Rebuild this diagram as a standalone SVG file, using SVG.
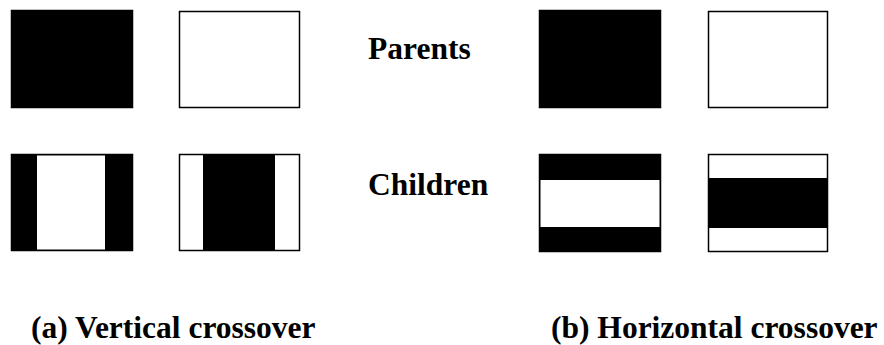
<svg xmlns="http://www.w3.org/2000/svg" width="884" height="345" viewBox="0 0 884 345">
<style>
.box{stroke:#000;stroke-width:1.5;}
.b{fill:#000;}
.w{fill:#fff;}
.t{font-family:"Liberation Serif","Times New Roman",serif;font-weight:bold;font-size:31.5px;fill:#000;}
</style>
<rect width="884" height="345" fill="#fff"/>
<g id="parent-a1"><rect class="box b" x="11.5" y="10.5" width="121" height="97"/></g>
<g id="parent-a2"><rect class="box w" x="179.5" y="11.5" width="120" height="96"/></g>
<g id="child-a1">
<rect class="box b" x="11.5" y="154.5" width="121" height="96"/>
<rect class="w" x="37" y="155.5" width="68" height="94"/>
</g>
<g id="child-a2">
<rect class="box w" x="179.5" y="154.5" width="120" height="96"/>
<rect class="b" x="203" y="154.5" width="72" height="96"/>
</g>
<g id="parent-b1"><rect class="box b" x="539.5" y="10.5" width="121" height="97"/></g>
<g id="parent-b2"><rect class="box w" x="708.5" y="11.5" width="119" height="96"/></g>
<g id="child-b1">
<rect class="box b" x="539.5" y="154.5" width="121" height="97"/>
<rect class="w" x="540.5" y="180" width="119" height="47"/>
</g>
<g id="child-b2">
<rect class="box w" x="708.5" y="154.5" width="119" height="97"/>
<rect class="b" x="708.5" y="178" width="119" height="50"/>
</g>
<g id="connectors"></g>
<g id="labels">
<text class="t" x="368" y="59">Parents</text>
<text class="t" x="368" y="195">Children</text>
<text class="t" x="31" y="338">(a) Vertical crossover</text>
<text class="t" x="551" y="338">(b) Horizontal crossover</text>
</g>
</svg>
